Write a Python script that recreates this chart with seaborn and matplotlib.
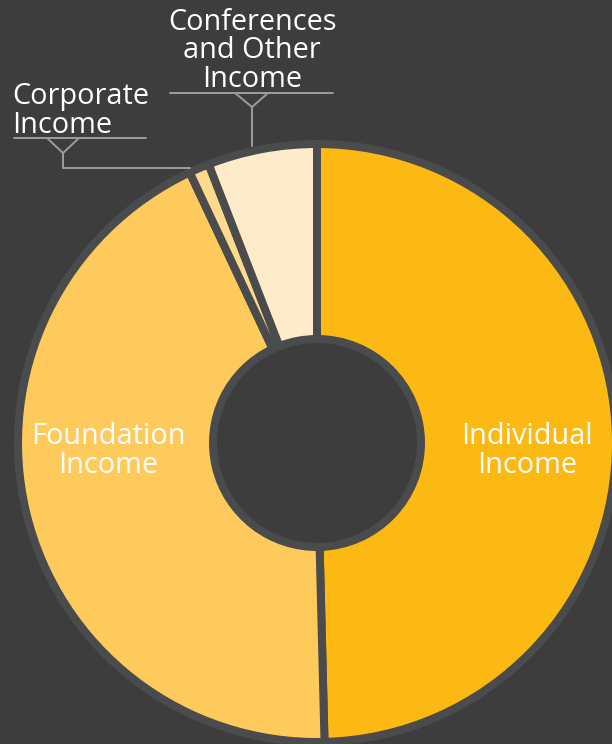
import matplotlib
matplotlib.use("Agg")
import matplotlib.pyplot as plt
import seaborn as sns

# Income shares (percent), clockwise from 12 o'clock
categories = ["Individual Income", "Foundation Income", "Corporate Income",
              "Conferences and Other Income"]
shares = [49.6, 43.4, 1.1, 5.9]
slice_colors = ["#FDB913", "#FFCA5C", "#FFD98C", "#FEEBC9"]

BG = "#3d3d3d"
RING = "#4a4b4d"
LEADER = "#9a9a9a"

sns.set_theme(style="dark", rc={"figure.facecolor": BG, "axes.facecolor": BG})
plt.rcParams["font.family"] = ["Open Sans", "DejaVu Sans"]

W, H = 612, 744
fig = plt.figure(figsize=(W / 100, H / 100), dpi=100)
ax = fig.add_axes([0, 0, 1, 1])


def Y(y):
    """Top-down pixel row to axes y."""
    return H - y


cx, cy = 317, Y(443)
r_out, r_in = 299, 104
px = 72 / 100  # points per pixel

ax.pie(shares, colors=sns.color_palette(slice_colors), startangle=90,
       counterclock=False, radius=r_out, center=(cx, cy),
       wedgeprops=dict(width=r_out - r_in, edgecolor=RING, linewidth=8 * px))

ax.set_xlim(0, W)
ax.set_ylim(0, H)
ax.set_aspect("equal")
ax.axis("off")

fs = 20.8
txt = dict(color="white", fontsize=fs, linespacing=0.96)
ax.text(527, Y(451), "Individual\nIncome", ha="center", va="center", **txt)
ax.text(108, Y(451), "Foundation\nIncome", ha="center", va="center", **txt)
ax.text(12, Y(111), "Corporate\nIncome", ha="left", va="center", **txt)
ax.text(252, Y(51), "Conferences\nand Other\nIncome", ha="center", va="center", **txt)

lw = 2 * px
# bracket for the corporate slice
ax.plot([14, 146], [Y(138), Y(138)], color=LEADER, lw=lw)
ax.plot([47, 63, 79], [Y(138), Y(153), Y(138)], color=LEADER, lw=lw)
ax.plot([63, 63, 190], [Y(153), Y(168), Y(168)], color=LEADER, lw=lw)
# bracket for the conferences slice
ax.plot([170, 333], [Y(93), Y(93)], color=LEADER, lw=lw)
ax.plot([235, 252, 268], [Y(93), Y(107), Y(93)], color=LEADER, lw=lw)
ax.plot([252, 252], [Y(107), Y(146)], color=LEADER, lw=lw)

fig.savefig("out.png", dpi=100, facecolor=BG)
